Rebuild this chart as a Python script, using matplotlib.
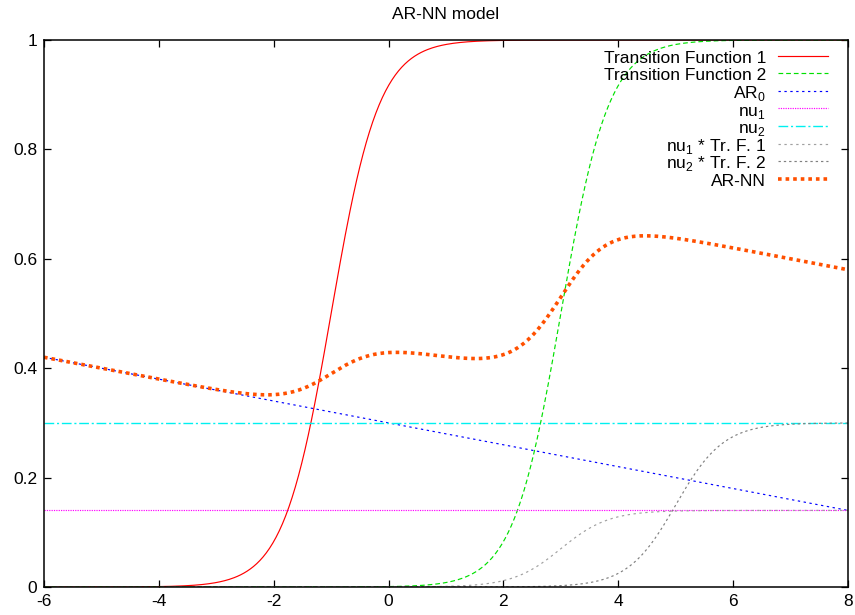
import numpy as np
import matplotlib
matplotlib.use('Agg')
import matplotlib.pyplot as plt

plt.rcParams['font.family'] = ['Liberation Sans', 'DejaVu Sans']
plt.rcParams['mathtext.fontset'] = 'custom'
plt.rcParams['mathtext.rm'] = 'Liberation Sans'

# ---- model values ----
ar0_const = 0.30      # AR_0 at x = 0
ar0_slope = -0.02     # AR_0 falls from 0.42 to 0.14 over [-6, 8]
nu1 = 0.14
nu2 = 0.30
tf1_center, tf1_gamma = -1.0, 2.4
tf2_center, tf2_gamma = 3.0, 2.4
grey2_center, grey2_gamma = 5.0, 2.4   # grey "nu2 * Tr. F. 2" curve sits further right

x_lim = (-6, 8)
x_ticks = [-6, -4, -2, 0, 2, 4, 6, 8]
y_ticks = [0, 0.2, 0.4, 0.6, 0.8, 1]

labels = ['Transition Function 1', 'Transition Function 2', 'AR$_\\mathregular{0}$',
          'nu$_\\mathregular{1}$', 'nu$_\\mathregular{2}$',
          'nu$_\\mathregular{1}$ * Tr. F. 1', 'nu$_\\mathregular{2}$ * Tr. F. 2', 'AR-NN']

# line styles, gnuplot-like
styles = [
    dict(color='#ff0000', lw=0.85, ls='-'),
    dict(color='#00e000', lw=0.85, ls=(0, (4, 2.5))),
    dict(color='#0000ff', lw=0.85, ls=(0, (2, 3))),
    dict(color='#ff00ff', lw=0.85, ls=(0, (1, 1))),
    dict(color='#00f0f0', lw=1.0, ls=(0, (7, 2, 1.5, 2))),
    dict(color='#a0a0a0', lw=0.85, ls=(0, (2, 3))),
    dict(color='#808080', lw=0.85, ls=(0, (2, 2.5))),
    dict(color='#ff5000', lw=2.6, ls=(0, (1, 1.1)), dash_capstyle='butt'),
]


def logistic(x, c, g):
    return 1.0 / (1.0 + np.exp(-g * (x - c)))


x = np.linspace(x_lim[0], x_lim[1], 500)
tf1 = logistic(x, tf1_center, tf1_gamma)
tf2 = logistic(x, tf2_center, tf2_gamma)
ar0 = ar0_const + ar0_slope * x
grey1 = nu1 * tf2
grey2 = nu2 * logistic(x, grey2_center, grey2_gamma)
ar_nn = ar0 + nu1 * tf1 + nu2 * tf2
series = [tf1, tf2, ar0, np.full_like(x, nu1), np.full_like(x, nu2), grey1, grey2, ar_nn]

fig = plt.figure(figsize=(8.55, 6.15), dpi=100)
ax = fig.add_axes([44 / 855, 28 / 615, 804 / 855, 547 / 615])

for y, st, lab in zip(series, styles, labels):
    ax.plot(x, y, label=lab, **st)

ax.set_xlim(*x_lim)
ax.set_ylim(0, 1)
ax.set_xticks(x_ticks)
ax.set_yticks(y_ticks)
ax.set_xticklabels(['%g' % t for t in x_ticks])
ax.set_yticklabels(['%g' % t for t in y_ticks])
ax.tick_params(direction='in', top=True, right=True, length=4.7, width=0.9,
               labelsize=12.5, pad=5)
for s in ax.spines.values():
    s.set_linewidth(1.1)

ax.set_title('AR-NN model', fontsize=12.5, pad=15)

# gnuplot-style key: right-aligned text, sample line to its right, fixed row pitch
pitch = 17.6 / 547
for i, (st, lab) in enumerate(zip(styles, labels)):
    ty = 0.9585 - i * pitch
    ly = 0.9713 - i * pitch
    ax.text(0.898, ty, lab, transform=ax.transAxes, ha='right', va='baseline',
            fontsize=12.5)
    ax.plot([0.913, 0.975], [ly, ly], transform=ax.transAxes, clip_on=False, **st)

fig.savefig('out.png', dpi=100)
